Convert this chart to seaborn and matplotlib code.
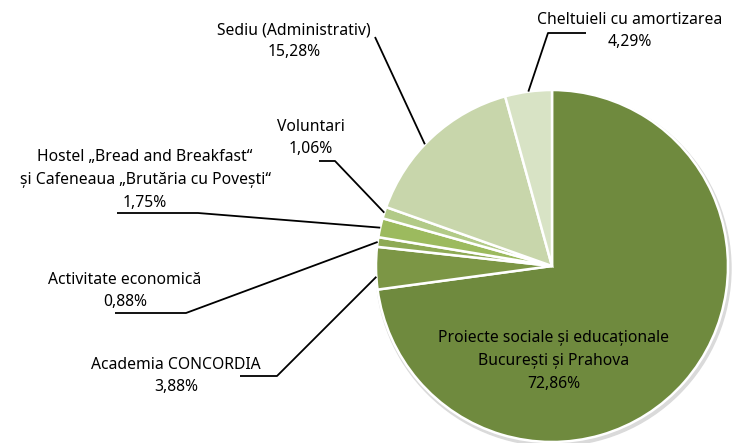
import numpy as np
import matplotlib
matplotlib.use("Agg")
import matplotlib.pyplot as plt
import seaborn as sns

categories = [
    "Proiecte sociale și educaționale\nBucurești și Prahova",
    "Academia CONCORDIA",
    "Activitate economică",
    "Hostel „Bread and Breakfast“\nși Cafeneaua „Brutăria cu Povești“",
    "Voluntari",
    "Sediu (Administrativ)",
    "Cheltuieli cu amortizarea",
]
values = [72.86, 3.88, 0.88, 1.75, 1.06, 15.28, 4.29]
colors = ["#6F8A3E", "#7C9645", "#8EAA55", "#9CBA5E", "#B2CA87", "#C8D6AB", "#D8E3C5"]

sns.set_theme(style="white")
plt.rcParams["font.family"] = ["Noto Sans", "DejaVu Sans"]

W, H = 742, 443
fig = plt.figure(figsize=(W / 100, H / 100), dpi=100)
ax = fig.add_axes([0, 0, 1, 1])

cx, cy, r = 552, H - 266, 176

wedges, _ = ax.pie(values, colors=colors, startangle=90, counterclock=False,
                   center=(cx, cy), radius=r,
                   wedgeprops=dict(edgecolor="white", linewidth=1.8))
for w in wedges:
    w.set_zorder(1)

# soft shadow
ax.add_patch(plt.Circle((cx + 1.5, cy - 2.5), r + 1.5, color="#dadada", zorder=0))

ax.set_xlim(0, W)
ax.set_ylim(0, H)
ax.set_aspect("equal")
ax.axis("off")


def py(y):
    return H - y


def fmt(v):
    return f"{v:.2f}".replace(".", ",") + "%"

fs = 11.3

# main slice label (inside)
ax.text(554, py(338), categories[0].split("\n")[0], ha="center", va="center", fontsize=fs, color="black")
ax.text(554, py(361), categories[0].split("\n")[1], ha="center", va="center", fontsize=fs, color="black")
ax.text(554, py(384), fmt(values[0]), ha="center", va="center", fontsize=fs, color="black")

ext = {
    1: dict(lines=[(176, 365)], pct=(176, 387), path=[(240, 376), (277, 376)], f=0.7),
    2: dict(lines=[(125, 280)], pct=(125, 302), path=[(115, 313), (186, 313)], f=0.5),
    3: dict(lines=[(145, 157), (145, 180)], pct=(145, 203), path=[(117, 213), (198, 213)], f=0.5),
    4: dict(lines=[(311, 127)], pct=(311, 149), path=[(319, 161), (335, 161)], f=0.5),
    5: dict(lines=[(294, 30)], pct=(294, 52), path=[(375, 37)], f=0.56),
    6: dict(lines=[(630, 20)], pct=(630, 42), path=[(586, 33), (548, 33)], f=0.5),
}

for i, spec in ext.items():
    txt_lines = categories[i].split("\n")
    for t, (x, y) in zip(txt_lines, spec["lines"]):
        ax.text(x, py(y), t, ha="center", va="center", fontsize=fs, color="black")
    ax.text(spec["pct"][0], py(spec["pct"][1]), fmt(values[i]), ha="center", va="center",
            fontsize=fs, color="black")
    w = wedges[i]
    ang = np.deg2rad(w.theta1 + spec["f"] * (w.theta2 - w.theta1))
    ex, ey = cx + r * np.cos(ang), cy + r * np.sin(ang)
    pts = [(x, py(y)) for x, y in spec["path"]] + [(ex, ey)]
    xs, ys = zip(*pts)
    ax.plot(xs, ys, color="black", lw=1.3, zorder=3, solid_capstyle="butt")

fig.savefig("out.png", dpi=100)
